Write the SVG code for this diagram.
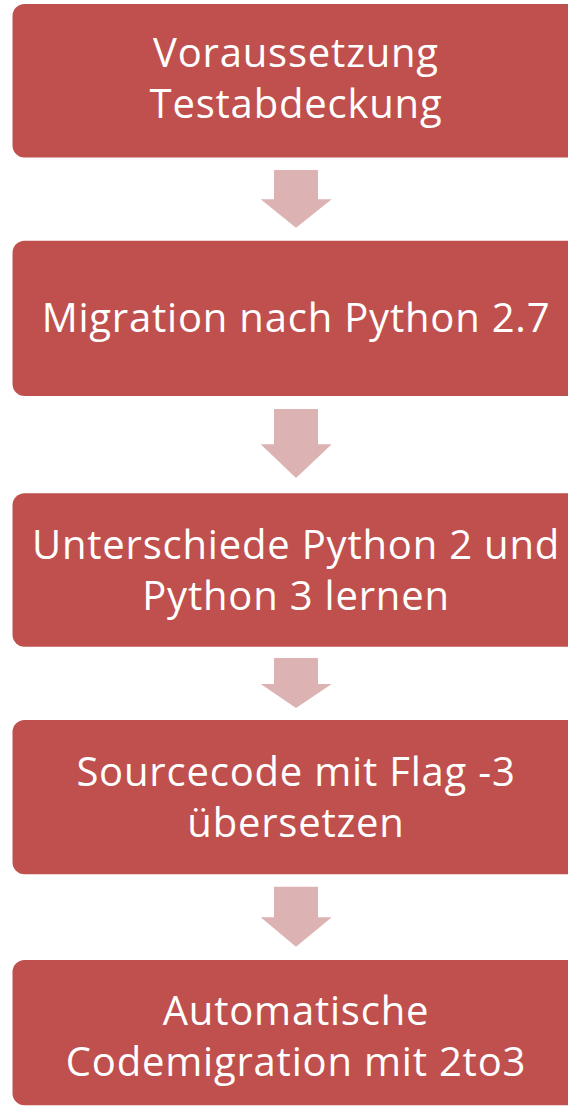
<svg xmlns="http://www.w3.org/2000/svg" width="568" height="1108" viewBox="0 0 568 1108">
<style>
.box{fill:#C0504D;}
.arr{fill:#DCB2B2;}
.t{font-family:"Open Sans","Liberation Sans",sans-serif;font-size:40px;letter-spacing:0.8px;fill:#FFFFFF;text-anchor:middle;}
</style>
<rect width="568" height="1108" fill="#FFFFFF"/>
<g id="connectors">
<polygon class="arr" points="274,170 318,170 318,199.3 331.7,199.3 296,227.7 260.7,199.3 274,199.3"/>
<polygon class="arr" points="274,409 318,409 318,444.3 331.7,444.3 296,478 260.7,444.3 274,444.3"/>
<polygon class="arr" points="274,658 318,658 318,684 331.7,684 296,708 260.7,684 274,684"/>
<polygon class="arr" points="274,886.7 318,886.7 318,917.3 331.7,917.3 296,946.7 260.7,917.3 274,917.3"/>
</g>
<g id="node1">
<rect class="box" x="12.5" y="4" width="567.5" height="153.5" rx="12"/>
<text class="t" x="296" y="67">Voraussetzung</text>
<text class="t" x="296" y="118">Testabdeckung</text>
</g>
<g id="node2">
<rect class="box" x="12.5" y="240.7" width="567.5" height="155.3" rx="12"/>
<text class="t" x="296" y="332">Migration nach Python 2.7</text>
</g>
<g id="node3">
<rect class="box" x="12.5" y="493.3" width="567.5" height="153.4" rx="12"/>
<text class="t" x="296" y="559">Unterschiede Python 2 und</text>
<text class="t" x="296" y="610">Python 3 lernen</text>
</g>
<g id="node4">
<rect class="box" x="12.5" y="720" width="567.5" height="154.3" rx="12"/>
<text class="t" x="296" y="786">Sourcecode mit Flag -3</text>
<text class="t" x="296" y="837">übersetzen</text>
</g>
<g id="node5">
<rect class="box" x="12.5" y="960" width="567.5" height="145.3" rx="12"/>
<text class="t" x="296" y="1025">Automatische</text>
<text class="t" x="296" y="1076">Codemigration mit 2to3</text>
</g>
</svg>
